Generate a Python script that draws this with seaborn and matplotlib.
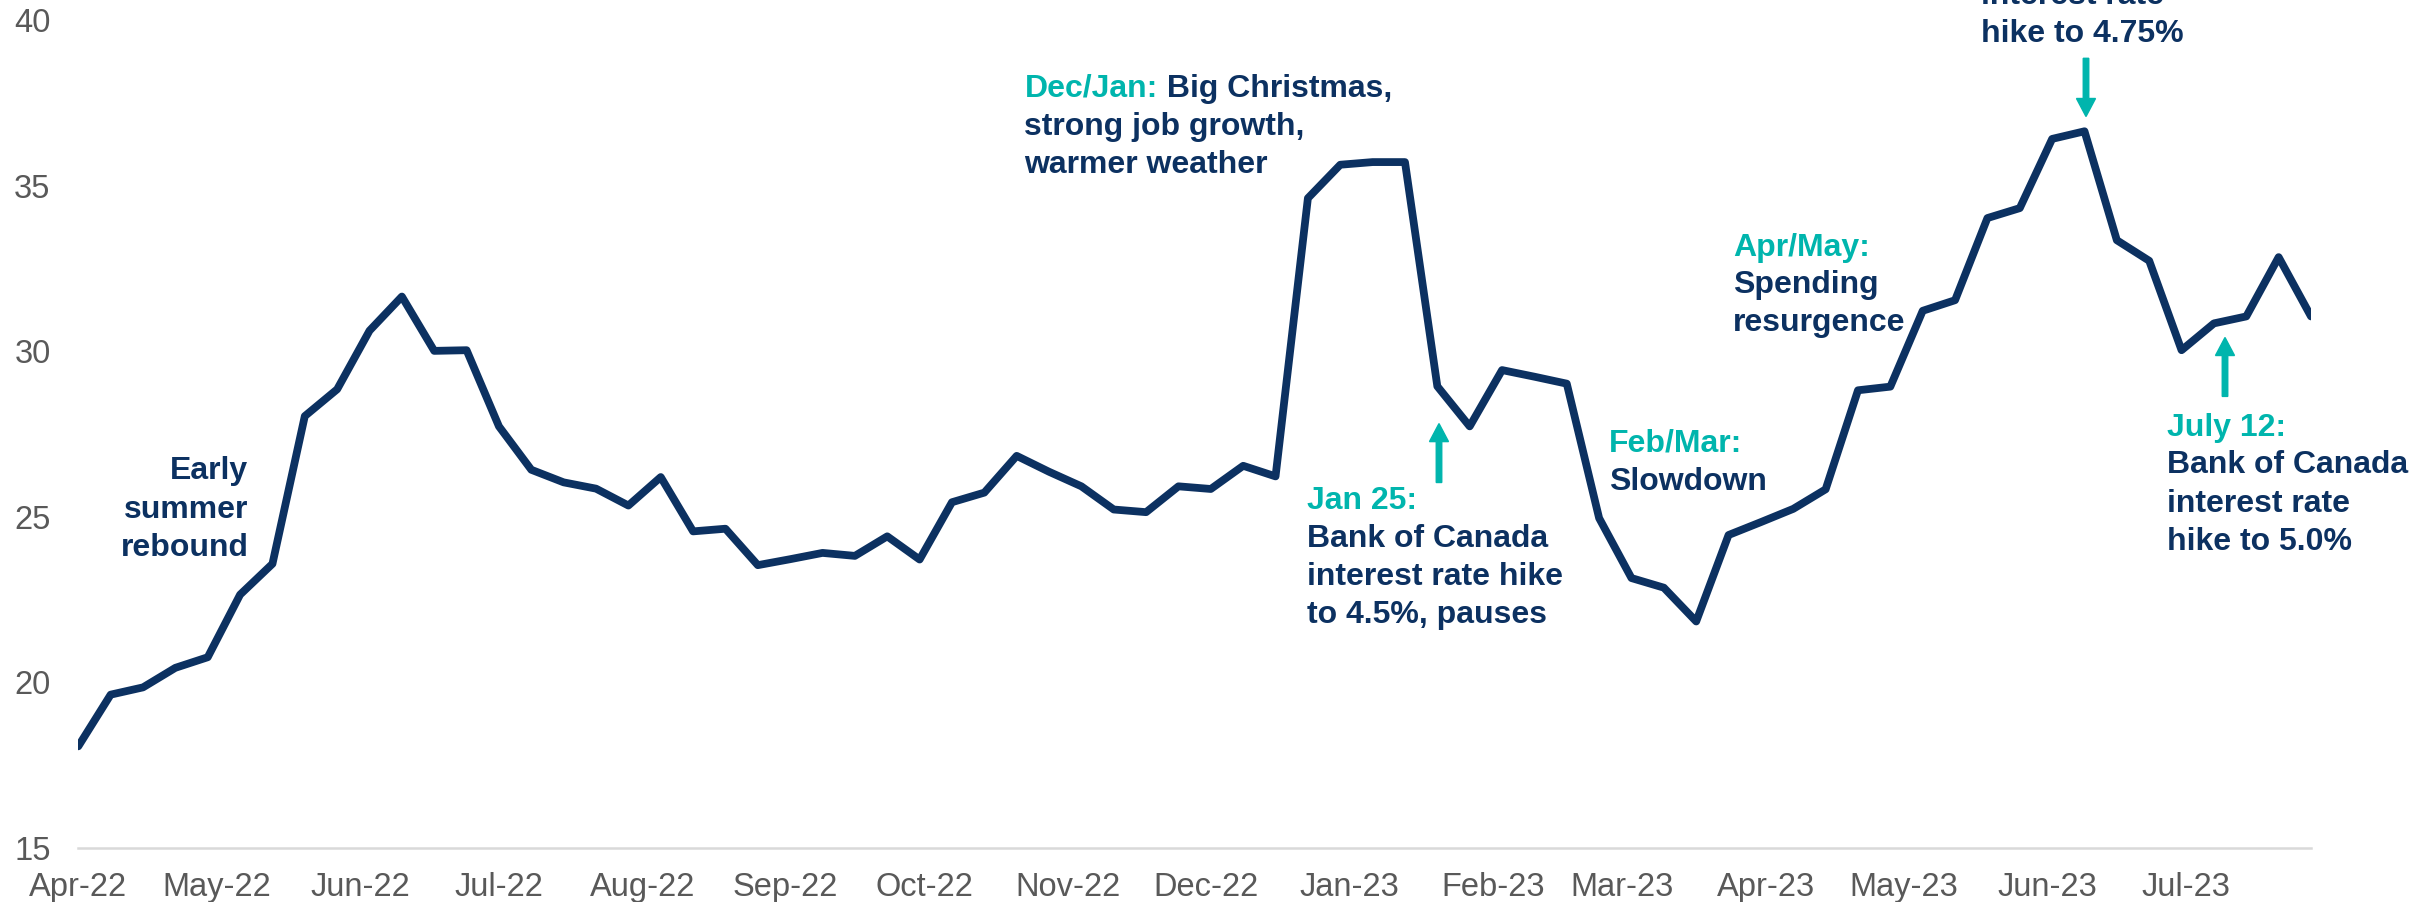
import pandas as pd
import matplotlib
matplotlib.use("Agg")
import matplotlib.pyplot as plt
import matplotlib.dates as mdates
from matplotlib.transforms import IdentityTransform
from matplotlib.patches import FancyArrow
import seaborn as sns

# ---------------- data ----------------
week_start = "2022-04-01"
values = [18.07, 19.63, 19.85, 20.44, 20.76, 22.65, 23.58, 28.04, 28.85, 30.62,
          31.65, 30.01, 30.03, 27.73, 26.42, 26.04, 25.85, 25.34, 26.20, 24.56,
          24.64, 23.54, 23.72, 23.91, 23.82, 24.41, 23.71, 25.44, 25.73, 26.84,
          26.36, 25.92, 25.22, 25.14, 25.92, 25.84, 26.54, 26.22, 34.62, 35.63,
          35.71, 35.71, 28.94, 27.73, 29.43, 29.23, 29.02, 24.96, 23.15, 22.86,
          21.84, 24.45, 24.84, 25.24, 25.83, 28.82, 28.93, 31.22, 31.54, 34.02,
          34.32, 36.41, 36.64, 33.35, 32.73, 30.03, 30.84, 31.05, 32.84, 31.05]
y_ticks = [15, 20, 25, 30, 35, 40]
tick_format = "%b-%y"

# ---------------- style ----------------
NAVY = "#0C3161"
TEAL = "#00B5AD"
GREY = "#595959"
AXIS = "#D9D9D9"
W, H, DPI = 2430, 902, 100
FS = 23.0       # annotation text, points
FS_TICK = 23.5  # tick labels, points

sns.set_theme(style="white")
plt.rcParams["font.family"] = ["Liberation Sans", "DejaVu Sans"]

fig = plt.figure(figsize=(W / DPI, H / DPI), dpi=DPI)
fig.patch.set_facecolor("white")
ax = fig.add_axes([78.3 / W, 54 / H, 2232.7 / W, 828 / H])

df = pd.DataFrame({
    "week": pd.date_range(week_start, periods=len(values), freq="7D"),
    "value": values,
})
sns.lineplot(data=df, x="week", y="value", ax=ax, color=NAVY, linewidth=5.6,
             solid_joinstyle="round")

ax.set_xlim(df["week"].iloc[0], df["week"].iloc[-1])
ax.set_ylim(15, 40)
ax.set_yticks(y_ticks)
ax.xaxis.set_major_locator(mdates.MonthLocator())
ax.xaxis.set_major_formatter(mdates.DateFormatter(tick_format))
ax.set_xlabel("")
ax.set_ylabel("")
ax.grid(False)
for s in ["top", "right", "left"]:
    ax.spines[s].set_visible(False)
ax.spines["bottom"].set_color(AXIS)
ax.spines["bottom"].set_linewidth(1.8)
ax.tick_params(axis="x", direction="in", length=6.5, width=1.4, color=AXIS,
               labelsize=FS_TICK, labelcolor=GREY, pad=17)
ax.tick_params(axis="y", length=0, labelsize=FS_TICK, labelcolor=GREY, pad=20)

# ---------------- annotations (pixel positions, y from top) ----------------
def put(x, y, s, color, ha="left"):
    return fig.text(x, H - y, s, transform=IdentityTransform(), color=color,
                    fontsize=FS, fontweight="bold", ha=ha, va="baseline")

# Early summer rebound (right aligned)
for yb, s in [(479.3, "Early"), (517.9, "summer"), (556.4, "rebound")]:
    put(248.3, yb, s, NAVY, ha="right")

# Dec/Jan
t = put(1024.5, 96.7, "Dec/Jan:", TEAL)
ax.annotate(" Big Christmas,", xy=(1, 0), xycoords=t, va="bottom", ha="left",
            color=NAVY, fontsize=FS, fontweight="bold")
put(1024.5, 135.0, "strong job growth,", NAVY)
put(1024.5, 173.3, "warmer weather", NAVY)

# Jan 25
put(1307.3, 508.6, "Jan 25:", TEAL)
put(1307.3, 546.8, "Bank of Canada", NAVY)
put(1307.3, 585.4, "interest rate hike", NAVY)
put(1307.3, 622.9, "to 4.5%, pauses", NAVY)

# Feb/Mar
put(1609.3, 451.8, "Feb/Mar:", TEAL)
put(1609.3, 490.4, "Slowdown", NAVY)

# Apr/May
put(1733.3, 256.0, "Apr/May:", TEAL)
put(1733.3, 292.9, "Spending", NAVY)
put(1733.3, 331.4, "resurgence", NAVY)

# June (cut at top of figure, as in the reference)
put(1981.0, 4.0, "interest rate", NAVY)
put(1981.0, 41.7, "hike to 4.75%", NAVY)

# July 12
put(2167.3, 435.7, "July 12:", TEAL)
put(2167.3, 473.3, "Bank of Canada", NAVY)
put(2167.3, 511.7, "interest rate", NAVY)
put(2167.3, 550.0, "hike to 5.0%", NAVY)

# arrows
def arrow(x, y_tail, y_tip):
    a = FancyArrow(x, H - y_tail, 0, (H - y_tip) - (H - y_tail), width=5.5,
                   head_width=19, head_length=18, length_includes_head=True,
                   color=TEAL, transform=IdentityTransform())
    fig.add_artist(a)

arrow(1439.0, 482.5, 423.6)
arrow(2086.0, 58.3, 116.5)
arrow(2225.0, 396.4, 337.5)

fig.savefig("out.png", dpi=DPI, facecolor="white")
